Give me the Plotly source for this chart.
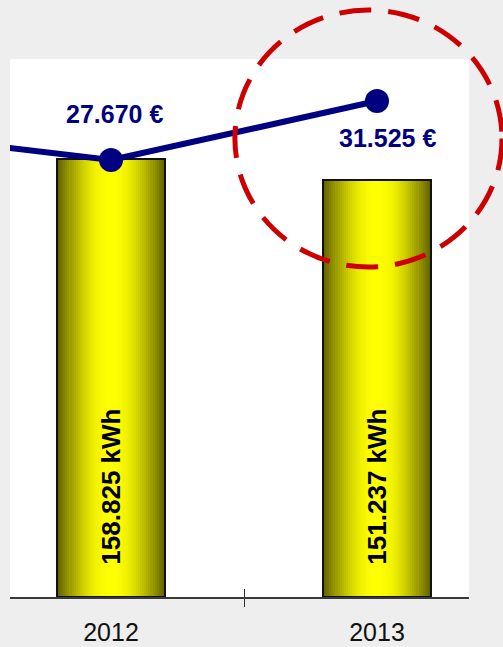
import math
import plotly.graph_objects as go

# ---- data ----
years = [2012, 2013]
year_labels = ["2012", "2013"]
energy_kwh = [158825, 151237]
energy_text = ["158.825 kWh", "151.237 kWh"]

cost_years = [2011, 2012, 2013]
cost_eur = [29740, 27670, 31525]          # 2011 lies outside the visible window
cost_text_years = [2012, 2013]
cost_text_vals = [27670, 31525]
cost_text = ["27.670 €", "31.525 €"]

FONT = "Arial, 'Liberation Sans', sans-serif"
BAR_W = 0.406
N = 26
EDGE = (100, 100, 0)
CENTER = (255, 255, 0)

fig = go.Figure()

for i in range(N):
    t = i / (N - 1)
    f = math.sin(t * math.pi / 2)
    col = tuple(int(round(EDGE[k] + (CENTER[k] - EDGE[k]) * f)) for k in range(3))
    w = BAR_W * (1 - i / N)
    fig.add_trace(go.Bar(
        x=years, y=energy_kwh, width=w,
        marker=dict(color="rgb(%d,%d,%d)" % col, line=dict(width=0)),
        hoverinfo="skip", showlegend=False,
    ))

# outline
fig.add_trace(go.Bar(
    x=years, y=energy_kwh, width=BAR_W,
    marker=dict(color="rgba(0,0,0,0)", line=dict(color="#111111", width=2)),
    showlegend=False,
))

# cost line
fig.add_trace(go.Scatter(
    x=cost_years, y=cost_eur, xaxis="x2", yaxis="y2",
    mode="lines+markers",
    line=dict(color="#000080", width=6),
    marker=dict(color="#000080", size=24),
    showlegend=False,
))

# bar labels (vertical)
for xv, txt in zip(years, energy_text):
    fig.add_annotation(
        x=xv, y=40000, xref="x", yref="y", text="<b>%s</b>" % txt,
        textangle=-90, showarrow=False,
        font=dict(family=FONT, size=26, color="#000000"),
    )

# cost labels
shifts = [(3, 46), (11, -37)]
for xv, yv, txt, (dx, dy) in zip(cost_text_years, cost_text_vals, cost_text, shifts):
    fig.add_annotation(
        x=xv, y=yv, xref="x2", yref="y2", text="<b>%s</b>" % txt,
        showarrow=False, xshift=dx, yshift=dy,
        font=dict(family=FONT, size=25, color="#000080"),
    )

# dashed highlight circle
fig.add_shape(
    type="circle", xref="paper", yref="paper",
    x0=0.490, x1=1.0719, y0=0.6134, y1=1.091,
    line=dict(color="#cc0000", width=5, dash="32px,17px"),
    layer="above",
)

XR = [2011.6203, 2013.3459]
fig.update_layout(
    width=503, height=647,
    margin=dict(l=10, r=34, t=59, b=50, autoexpand=False),
    paper_bgcolor="#eeeeee", plot_bgcolor="#ffffff",
    barmode="overlay", bargap=0,
    font=dict(family=FONT),
    xaxis=dict(
        range=XR, tickmode="array", tickvals=years, ticktext=year_labels,
        ticks="", showgrid=False, zeroline=False, automargin=False,
        showline=True, linecolor="#3a3a3a", linewidth=2,
        tickfont=dict(family=FONT, size=25, color="#111111"),
        ticklabelstandoff=12,
        minor=dict(tickmode="array", tickvals=[2012.5], ticks="outside",
                   ticklen=8, tickwidth=1, tickcolor="#333333", showgrid=False),
    ),
    xaxis2=dict(
        range=XR, overlaying="x", anchor="y2", side="bottom", automargin=False,
        tickmode="array", tickvals=[2012.5], ticks="inside", ticklen=8,
        tickwidth=1, tickcolor="#333333",
        showticklabels=False, showgrid=False, zeroline=False, showline=False,
    ),
    yaxis=dict(range=[0, 195000], visible=False, showgrid=False, automargin=False),
    yaxis2=dict(range=[-870, 34270], overlaying="y", visible=False,
                showgrid=False, automargin=False),
)

fig.write_html(
    "out.html",
    config={"displayModeBar": False},
    post_script="document.body.style.margin='0';document.body.style.overflow='hidden';document.body.style.background='#eeeeee';",
)
